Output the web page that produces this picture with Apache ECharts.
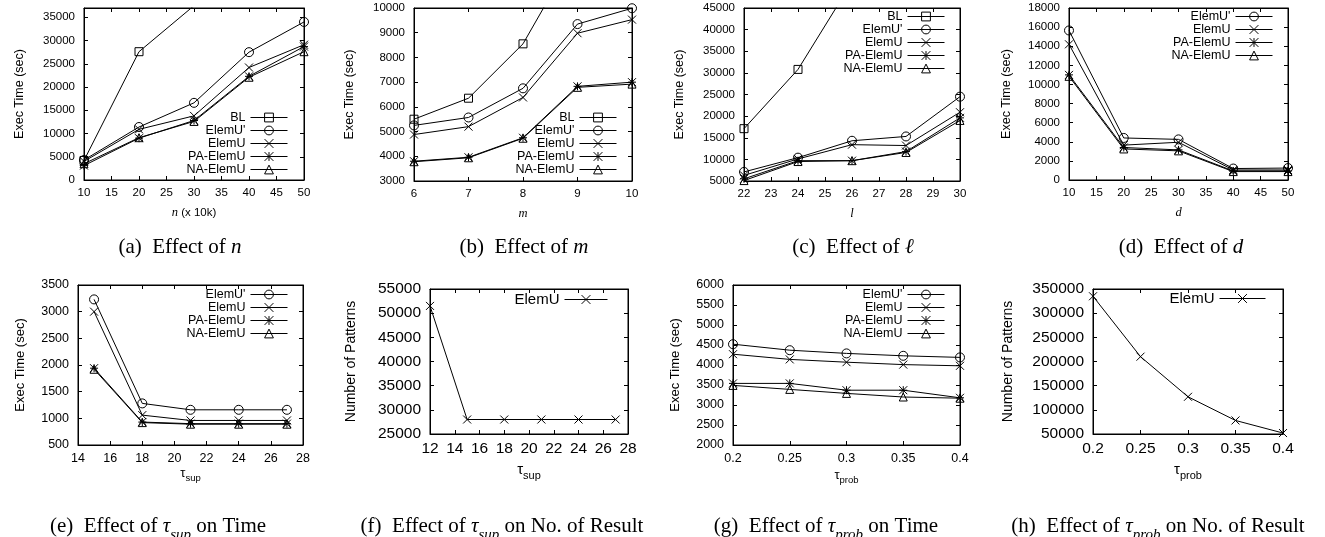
<!DOCTYPE html>
<html><head><meta charset="utf-8">
<script src="https://cdn.jsdelivr.net/npm/echarts@6/dist/echarts.min.js"></script>
<style>html,body{margin:0;padding:0;background:#fff}#c{width:1325px;height:537px}</style>
</head><body><div id="c"></div>
<script>
// ---------- DATA ----------
// (a) Effect of n
const aX = [10, 20, 30, 40, 50];
const aBL = [4200, 27600, 37500];
const aElemUp = [4300, 11400, 16600, 27500, 34000];
const aElemU = [4000, 10900, 13800, 24200, 29100];
const aPA = [3100, 9000, 12800, 22300, 28700];
const aNA = [3500, 9100, 12600, 22100, 27600];
// (b) Effect of m
const bX = [6, 7, 8, 9, 10];
const bBL = [5500, 6350, 8550, 12400];
const bElemUp = [5250, 5570, 6750, 9350, 9990];
const bElemU = [4880, 5200, 6380, 8980, 9530];
const bPA = [3800, 3960, 4750, 6830, 7000];
const bNA = [3780, 3940, 4730, 6790, 6920];
// (c) Effect of l
const cX = [22, 24, 26, 28, 30];
const cBL = [17100, 30800, 51000];
const cElemUp = [7100, 10400, 14300, 15300, 24500];
const cElemU = [6300, 10100, 13400, 13200, 20900];
const cPA = [5500, 9700, 9700, 11800, 19600];
const cNA = [5100, 9500, 9700, 11600, 19000];
// (d) Effect of d
const dX = [10, 20, 30, 40, 50];
const dElemUp = [15650, 4400, 4250, 1200, 1250];
const dElemU = [14200, 3650, 3950, 1050, 1050];
const dPA = [11000, 3400, 3150, 950, 950];
const dNA = [10850, 3250, 3050, 880, 880];
// (e) Effect of tau_sup on Time
const eX = [15, 18, 21, 24, 27];
const eElemUp = [3230, 1280, 1160, 1160, 1160];
const eElemU = [3000, 1060, 960, 960, 960];
const ePA = [1940, 930, 900, 900, 900];
const eNA = [1920, 920, 890, 890, 890];
// (f) Effect of tau_sup on No. of Result
const fX = [12, 15, 18, 21, 24, 27];
const fElemU = [51500, 28000, 28000, 28000, 28000, 28000];
// (g) Effect of tau_prob on Time
const gX = [0.2, 0.25, 0.3, 0.35, 0.4];
const gElemUp = [4520, 4370, 4290, 4230, 4190];
const gElemU = [4270, 4140, 4070, 4010, 3980];
const gPA = [3540, 3540, 3370, 3370, 3180];
const gNA = [3490, 3390, 3290, 3200, 3170];
// (h) Effect of tau_prob on No. of Result
const hX = [0.2, 0.25, 0.3, 0.35, 0.4];
const hElemU = [335000, 210000, 127000, 78000, 52000];

// ---------- STYLE ----------
const SANS = '"Liberation Sans", Arial, Helvetica, sans-serif';
const SERIF = '"Liberation Serif", "DejaVu Serif", "Times New Roman", serif';
const SYM = {
  'BL': 'path://M0,0L10,0L10,10L0,10Z',
  "ElemU'": 'path://M5,0A5,5,0,1,1,5,10A5,5,0,1,1,5,0Z',
  'ElemU': 'path://M0,0L10,10M10,0L0,10',
  'PA-ElemU': 'path://M0,0L10,10M10,0L0,10M5,0L5,10M0,5L10,5',
  'NA-ElemU': 'path://M5,0L10,9L0,9Z'
};
const SYMSIZE = {'BL': 8, "ElemU'": 9, 'ElemU': 8, 'PA-ElemU': 8, 'NA-ElemU': 8};
const fmt = v => String(+(+v).toFixed(6));

function subName(fs, ss, off) {
  return {
    t: {fontFamily: SANS, fontSize: fs, lineHeight: fs + 2, verticalAlign: 'top', color: '#000'},
    s: {fontFamily: SANS, fontSize: ss, lineHeight: ss, padding: [off, 0, 0, 0], verticalAlign: 'top', color: '#000'}
  };
}
function italName(fs) {
  return {
    i: {fontFamily: SERIF, fontStyle: 'italic', fontSize: fs + 1, color: '#000'},
    r: {fontFamily: SANS, fontSize: fs, color: '#000'}
  };
}

const panels = [
  {grid: {left: 84, top: 8, width: 220, height: 172},
   x: {min: 10, max: 50, interval: 5}, y: {min: 0, max: 37000, interval: 5000, hideMax: true},
   xName: '{i|n}{r| (x 10k)}', xRich: italName(11.5), xGap: 26,
   yName: 'Exec Time (sec)', yGap: 58, tick: 11.5, yNameFont: 12.5,
   legend: {right: 1037, top: 111, itemWidth: 37, font: 12.5},
   series: [['BL', aX, aBL], ["ElemU'", aX, aElemUp], ['ElemU', aX, aElemU], ['PA-ElemU', aX, aPA], ['NA-ElemU', aX, aNA]],
   cap: {x: 180, y: 249, text: '{r|(a)  Effect of }{i|n}'}},
  {grid: {left: 414, top: 8, width: 218, height: 173},
   x: {min: 6, max: 10, interval: 1}, y: {min: 3000, max: 10000, interval: 1000},
   xName: '{i|m}', xRich: italName(11.5), xGap: 26,
   yName: 'Exec Time (sec)', yGap: 58, tick: 11.5, yNameFont: 12.5,
   legend: {right: 708, top: 111, itemWidth: 37, font: 12.5},
   series: [['BL', bX, bBL], ["ElemU'", bX, bElemUp], ['ElemU', bX, bElemU], ['PA-ElemU', bX, bPA], ['NA-ElemU', bX, bNA]],
   cap: {x: 524, y: 249, text: '{r|(b)  Effect of }{i|m}'}},
  {grid: {left: 744, top: 8, width: 216, height: 173},
   x: {min: 22, max: 30, interval: 1}, y: {min: 5000, max: 45000, interval: 5000},
   xName: '{i|l}', xRich: italName(11.5), xGap: 26,
   yName: 'Exec Time (sec)', yGap: 58, tick: 11.5, yNameFont: 12.5,
   legend: {right: 380, top: 10, itemWidth: 37, font: 12.5},
   series: [['BL', cX, cBL], ["ElemU'", cX, cElemUp], ['ElemU', cX, cElemU], ['PA-ElemU', cX, cPA], ['NA-ElemU', cX, cNA]],
   cap: {x: 853, y: 249, text: '{r|(c)  Effect of }{i|ℓ}'}},
  {grid: {left: 1069, top: 8, width: 219, height: 172},
   x: {min: 10, max: 50, interval: 5}, y: {min: 0, max: 18000, interval: 2000},
   xName: '{i|d}', xRich: italName(11.5), xGap: 26,
   yName: 'Exec Time (sec)', yGap: 56, tick: 11.5, yNameFont: 12.5,
   legend: {right: 52, top: 10, itemWidth: 37, font: 12.5},
   series: [["ElemU'", dX, dElemUp], ['ElemU', dX, dElemU], ['PA-ElemU', dX, dPA], ['NA-ElemU', dX, dNA]],
   cap: {x: 1181, y: 249, text: '{r|(d)  Effect of }{i|d}'}},
  {grid: {left: 78, top: 285, width: 225, height: 160},
   x: {min: 14, max: 28, interval: 2}, y: {min: 500, max: 3500, interval: 500},
   xName: '{t|τ}{s|sup}', xRich: subName(13, 9.5, 6), xGap: 22,
   yName: 'Exec Time (sec)', yGap: 51, tick: 12.5, yNameFont: 13,
   legend: {right: 1037, top: 288, itemWidth: 37, font: 12.5},
   series: [["ElemU'", eX, eElemUp], ['ElemU', eX, eElemU], ['PA-ElemU', eX, ePA], ['NA-ElemU', eX, eNA]],
   cap: {x: 158, y: 528, text: '{r|(e)  Effect of }{t|τ}{s|sup}{r| on Time}'}},
  {grid: {left: 430, top: 289, width: 198, height: 145},
   x: {min: 12, max: 28, interval: 2}, y: {min: 25000, max: 55000, interval: 5000},
   xName: '{t|τ}{s|sup}', xRich: subName(15, 11, 8), xGap: 28,
   yName: 'Number of Patterns', yGap: 72, tick: 15.5, yNameFont: 14,
   legend: {right: 717, top: 292, itemWidth: 43, font: 15},
   series: [['ElemU', fX, fElemU]],
   cap: {x: 502, y: 528, text: '{r|(f)  Effect of }{t|τ}{s|sup}{r| on No. of Result}'}},
  {grid: {left: 733, top: 285, width: 227, height: 160},
   x: {min: 0.2, max: 0.4, interval: 0.05}, y: {min: 2000, max: 6000, interval: 500},
   xName: '{t|τ}{s|prob}', xRich: subName(13, 9.5, 6), xGap: 24,
   yName: 'Exec Time (sec)', yGap: 51, tick: 12.5, yNameFont: 13,
   legend: {right: 380, top: 288, itemWidth: 37, font: 12.5},
   series: [["ElemU'", gX, gElemUp], ['ElemU', gX, gElemU], ['PA-ElemU', gX, gPA], ['NA-ElemU', gX, gNA]],
   cap: {x: 826, y: 528, text: '{r|(g)  Effect of }{t|τ}{s|prob}{r| on Time}'}},
  {grid: {left: 1093, top: 289, width: 190, height: 145},
   x: {min: 0.2, max: 0.4, interval: 0.05}, y: {min: 50000, max: 350000, interval: 50000},
   xName: '{t|τ}{s|prob}', xRich: subName(15, 11, 8), xGap: 28,
   yName: 'Number of Patterns', yGap: 78, tick: 15.5, yNameFont: 14,
   legend: {right: 59, top: 291, itemWidth: 46, font: 15},
   series: [['ElemU', hX, hElemU]],
   cap: {x: 1158, y: 528, text: '{r|(h)  Effect of }{t|τ}{s|prob}{r| on No. of Result}'}}
];

const capRich = {
  r: {fontFamily: SERIF, fontSize: 21, lineHeight: 24, verticalAlign: 'top', color: '#000'},
  i: {fontFamily: SERIF, fontStyle: 'italic', fontSize: 21, lineHeight: 24, verticalAlign: 'top', color: '#000'},
  t: {fontFamily: SERIF, fontStyle: 'italic', fontSize: 21, lineHeight: 24, verticalAlign: 'top', color: '#000'},
  s: {fontFamily: SERIF, fontStyle: 'italic', fontSize: 15, lineHeight: 15, padding: [12, 0, 0, 0], verticalAlign: 'top', color: '#000'}
};

const grids = [], xAxes = [], yAxes = [], series = [], legends = [], graphics = [];
const axisLineStyle = {show: true, onZero: false, lineStyle: {color: '#000', width: 1}};
panels.forEach((p, gi) => {
  grids.push(Object.assign({show: true, borderColor: '#000', borderWidth: 1, containLabel: false}, p.grid));
  const tickStyle = {show: true, inside: true, length: 4, lineStyle: {color: '#000', width: 1}};
  xAxes.push({type: 'value', gridIndex: gi, position: 'bottom', min: p.x.min, max: p.x.max, interval: p.x.interval,
    axisLine: axisLineStyle, axisTick: tickStyle, splitLine: {show: false},
    axisLabel: {color: '#000', fontFamily: SANS, fontSize: p.tick, margin: 7, formatter: fmt},
    name: p.xName, nameLocation: 'middle', nameGap: p.xGap,
    nameTextStyle: {rich: p.xRich, color: '#000'}});
  xAxes.push({type: 'value', gridIndex: gi, position: 'top', min: p.x.min, max: p.x.max, interval: p.x.interval,
    axisLine: axisLineStyle, axisTick: tickStyle, splitLine: {show: false}, axisLabel: {show: false}});
  yAxes.push({type: 'value', gridIndex: gi, position: 'left', min: p.y.min, max: p.y.max, interval: p.y.interval,
    axisLine: axisLineStyle, axisTick: tickStyle, splitLine: {show: false},
    axisLabel: {color: '#000', fontFamily: SANS, fontSize: p.tick, margin: 9, showMaxLabel: !p.y.hideMax, formatter: fmt},
    name: p.yName, nameLocation: 'middle', nameGap: p.yGap, nameRotate: 90,
    nameTextStyle: {color: '#000', fontFamily: SANS, fontSize: p.yNameFont}});
  yAxes.push({type: 'value', gridIndex: gi, position: 'right', min: p.y.min, max: p.y.max, interval: p.y.interval,
    axisLine: axisLineStyle, axisTick: tickStyle, splitLine: {show: false}, axisLabel: {show: false}});
  p.series.forEach(([name, xs, ys]) => {
    series.push({
      type: 'line', name: name, xAxisIndex: gi * 2, yAxisIndex: gi * 2,
      data: ys.map((v, i) => [xs[i], v]),
      symbol: SYM[name], symbolSize: SYMSIZE[name], showSymbol: true, showAllSymbol: true, clip: true,
      lineStyle: {color: '#000', width: 1},
      itemStyle: {color: 'rgba(255,255,255,0)', borderColor: '#000', borderWidth: 1},
      emphasis: {disabled: true}, animation: false
    });
  });
  legends.push({
    data: p.series.map(s => s[0]), orient: 'vertical', align: 'right',
    right: p.legend.right, top: p.legend.top, padding: 0,
    itemWidth: p.legend.itemWidth, itemHeight: 11, itemGap: 0, selectedMode: false,
    itemStyle: {borderWidth: 1, borderColor: '#000', color: 'rgba(255,255,255,0)'},
    lineStyle: {width: 1, color: '#000'},
    textStyle: {color: '#000', fontFamily: SANS, fontSize: p.legend.font, lineHeight: p.legend.font}
  });
  graphics.push({type: 'text', x: p.cap.x, y: p.cap.y,
    style: {text: p.cap.text, rich: capRich, align: 'center', verticalAlign: 'middle', fill: '#000'}});
});

const chart = echarts.init(document.getElementById('c'), null, {renderer: 'canvas'});
chart.setOption({
  animation: false,
  backgroundColor: '#fff',
  grid: grids, xAxis: xAxes, yAxis: yAxes, series: series, legend: legends, graphic: graphics
});
</script></body></html>
